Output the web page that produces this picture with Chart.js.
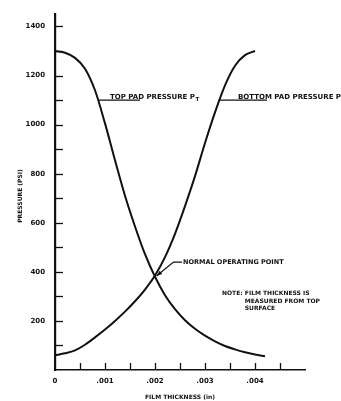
<!DOCTYPE html>
<html>
<head>
<meta charset="utf-8">
<script src="https://cdn.jsdelivr.net/npm/chart.js@4/dist/chart.umd.min.js"></script>
<style>
  html, body { margin: 0; padding: 0; background: #fff; overflow: hidden; }
  canvas { display: block; }
</style>
</head>
<body>
<canvas id="c" width="341" height="401"></canvas>
<script>
// Film thickness (in) and pad pressures (psi)
const topThickness = [0, 0.0002, 0.0004, 0.0006, 0.0008, 0.001, 0.0012, 0.0014, 0.0016, 0.0018, 0.002,
  0.0022, 0.0024, 0.0026, 0.0028, 0.003, 0.0032, 0.0034, 0.0036, 0.0038, 0.004, 0.0042];
const topPressure = [1300, 1293, 1272, 1228, 1140, 1005, 855, 710, 585, 472, 380,
  305, 248, 203, 168, 140, 117, 98, 84, 72, 63, 56];

const bottomThickness = [0, 0.0002, 0.0004, 0.0006, 0.0008, 0.001, 0.0012, 0.0014, 0.0016, 0.0018, 0.002,
  0.0022, 0.0024, 0.0026, 0.0028, 0.003, 0.0032, 0.0034, 0.0036, 0.0038, 0.004];
const bottomPressure = [60, 68, 80, 103, 133, 165, 200, 238, 280, 328, 385,
  460, 555, 668, 790, 925, 1050, 1160, 1240, 1283, 1300];

const xTickLabels = ['0', '.001', '.002', '.003', '.004'];
const yTickLabels = ['200', '400', '600', '800', '1000', '1200', '1400'];

// Callout positions, in axis units (thickness, psi)
const topCallout = { from: [0.00087, 1100], to: [0.0017, 1100], text: [0.0011, 1100] };
const bottomCallout = { from: [0.00327, 1100], to: [0.00424, 1100], text: [0.00366, 1100] };
const operatingLeader = [[0.00254, 440], [0.00237, 440], [0.00203, 383]];
const operatingText = [0.00256, 440];
const noteAt = [0.00334, 312];
const noteLines = ['NOTE: FILM THICKNESS IS', 'MEASURED FROM TOP', 'SURFACE'];

const FONT = '"DejaVu Sans", sans-serif';

function toPoints(xs, ys) {
  return xs.map((v, i) => ({ x: v, y: ys[i] }));
}

const annotations = {
  id: 'annotations',
  afterDraw(chart) {
    const { ctx, scales: { x, y } } = chart;
    const px = v => x.getPixelForValue(v);
    const py = v => y.getPixelForValue(v);
    ctx.save();
    ctx.strokeStyle = '#111';
    ctx.fillStyle = '#111';
    ctx.lineCap = 'butt';

    // inward ticks on the pressure axis, every 100 psi
    ctx.lineWidth = 1.3;
    y.ticks.forEach(t => {
      if (t.value > 0 && t.value % 100 === 0) {
        const yy = Math.round(py(t.value)) + 0.5;
        ctx.beginPath();
        ctx.moveTo(x.left, yy);
        ctx.lineTo(x.left + 8, yy);
        ctx.stroke();
      }
    });
    // inward ticks on the thickness axis, every .0005 in
    x.ticks.forEach(t => {
      if (t.value > 1e-9 && t.value < x.max - 1e-9) {
        const xx = Math.round(px(t.value)) + 0.5;
        ctx.beginPath();
        ctx.moveTo(xx, y.bottom);
        ctx.lineTo(xx, y.bottom - 7);
        ctx.stroke();
      }
    });

    // callout leader lines
    ctx.lineWidth = 1.2;
    [topCallout, bottomCallout].forEach(c => {
      ctx.beginPath();
      ctx.moveTo(px(c.from[0]), py(c.from[1]));
      ctx.lineTo(px(c.to[0]), py(c.to[1]));
      ctx.stroke();
    });

    ctx.textAlign = 'left';
    ctx.textBaseline = 'alphabetic';
    function labelWithSub(main, sub, pos) {
      const lx = px(pos[0]);
      const ly = py(pos[1]) - 1.5;
      ctx.font = 'bold 7px ' + FONT;
      ctx.fillText(main, lx, ly);
      const w = ctx.measureText(main).width;
      ctx.font = 'bold 5.5px ' + FONT;
      ctx.fillText(sub, lx + w + 0.5, ly + 2.5);
    }
    labelWithSub('TOP PAD PRESSURE P', 'T', topCallout.text);
    labelWithSub('BOTTOM PAD PRESSURE P', 'B', bottomCallout.text);

    // operating point leader with arrow
    ctx.beginPath();
    operatingLeader.forEach((p, i) => {
      const X = px(p[0]), Y = py(p[1]);
      if (i === 0) ctx.moveTo(X, Y); else ctx.lineTo(X, Y);
    });
    ctx.stroke();
    const a = operatingLeader[operatingLeader.length - 2];
    const b = operatingLeader[operatingLeader.length - 1];
    const ax = px(a[0]), ay = py(a[1]), bx = px(b[0]), by = py(b[1]);
    const ang = Math.atan2(by - ay, bx - ax);
    ctx.beginPath();
    ctx.moveTo(bx, by);
    ctx.lineTo(bx - 6 * Math.cos(ang - 0.35), by - 6 * Math.sin(ang - 0.35));
    ctx.lineTo(bx - 6 * Math.cos(ang + 0.35), by - 6 * Math.sin(ang + 0.35));
    ctx.closePath();
    ctx.fill();

    ctx.font = 'bold 6.5px ' + FONT;
    ctx.textBaseline = 'middle';
    ctx.fillText('NORMAL OPERATING POINT', px(operatingText[0]), py(operatingText[1]));

    // note block
    ctx.font = 'bold 6px ' + FONT;
    const nx = px(noteAt[0]), ny = py(noteAt[1]);
    ctx.fillText(noteLines[0], nx, ny);
    const indent = ctx.measureText('NOTE: ').width;
    ctx.fillText(noteLines[1], nx + indent, ny + 7.5);
    ctx.fillText(noteLines[2], nx + indent, ny + 15);

    // pressure axis title
    ctx.font = 'bold 6px ' + FONT;
    ctx.textAlign = 'center';
    ctx.translate(20, 196);
    ctx.rotate(-Math.PI / 2);
    ctx.fillText('PRESSURE (PSI)', 0, 0);
    ctx.restore();
  }
};

new Chart(document.getElementById('c'), {
  type: 'scatter',
  data: {
    datasets: [
      {
        label: 'Top pad pressure',
        data: toPoints(topThickness, topPressure),
        showLine: true,
        borderColor: '#111',
        borderWidth: 2,
        pointRadius: 0,
        cubicInterpolationMode: 'monotone',
        fill: false
      },
      {
        label: 'Bottom pad pressure',
        data: toPoints(bottomThickness, bottomPressure),
        showLine: true,
        borderColor: '#111',
        borderWidth: 2,
        pointRadius: 0,
        cubicInterpolationMode: 'monotone',
        fill: false
      }
    ]
  },
  options: {
    responsive: false,
    animation: false,
    devicePixelRatio: 1,
    layout: { padding: { top: 7, right: 36, left: 0, bottom: 0 } },
    plugins: { legend: { display: false }, tooltip: { enabled: false } },
    scales: {
      x: {
        type: 'linear',
        min: 0,
        max: 0.005,
        afterFit: s => { s.height = 31; },
        grid: { display: true, drawOnChartArea: false, drawTicks: false },
        border: { display: true, color: '#111', width: 1.6 },
        ticks: {
          stepSize: 0.0005,
          autoSkip: false,
          maxRotation: 0,
          padding: 7,
          color: '#111',
          font: { family: FONT, size: 7, weight: 'bold' },
          callback: v => {
            const k = Math.round(v / 0.0005);
            if (k % 2 === 0 && k / 2 < xTickLabels.length) return xTickLabels[k / 2];
            return '';
          }
        },
        title: {
          display: true,
          text: 'FILM THICKNESS (in)',
          color: '#111',
          font: { family: FONT, size: 6, weight: 'bold' },
          padding: 0
        }
      },
      y: {
        min: 0,
        max: 1450,
        afterFit: s => { s.width = 55; },
        grid: { display: true, drawOnChartArea: false, drawTicks: false },
        border: { display: true, color: '#111', width: 2.2 },
        ticks: {
          stepSize: 100,
          autoSkip: false,
          padding: 10,
          color: '#111',
          font: { family: FONT, size: 7, weight: 'bold' },
          callback: v => {
            if (v > 0 && v % 200 === 0) {
              const i = v / 200 - 1;
              return i < yTickLabels.length ? yTickLabels[i] : '';
            }
            return '';
          }
        }
      }
    }
  },
  plugins: [annotations]
});
</script>
</body>
</html>
